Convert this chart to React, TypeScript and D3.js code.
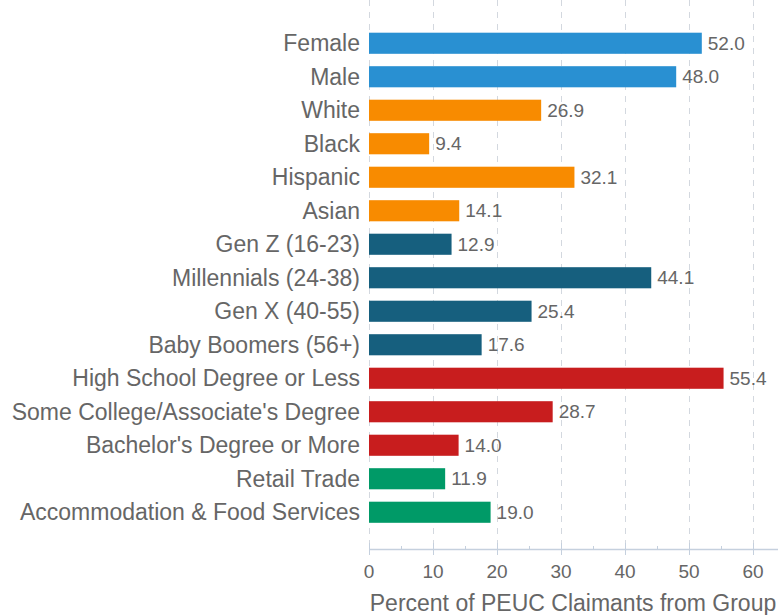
import { useEffect, useRef } from "react";
import * as d3 from "d3";

// categories, top to bottom
const categories = [
  "Female",
  "Male",
  "White",
  "Black",
  "Hispanic",
  "Asian",
  "Gen Z (16-23)",
  "Millennials (24-38)",
  "Gen X (40-55)",
  "Baby Boomers (56+)",
  "High School Degree or Less",
  "Some College/Associate's Degree",
  "Bachelor's Degree or More",
  "Retail Trade",
  "Accommodation & Food Services",
];
const values = [52.0, 48.0, 26.9, 9.4, 32.1, 14.1, 12.9, 44.1, 25.4, 17.6, 55.4, 28.7, 14.0, 11.9, 19.0];
const groups = ["sex", "sex", "race", "race", "race", "race", "age", "age", "age", "age", "edu", "edu", "edu", "ind", "ind"];
const groupColors: Record<string, string> = {
  sex: "#2990d2",
  race: "#f88b00",
  age: "#165f7e",
  edu: "#c81d1e",
  ind: "#009a67",
};
const xTicks = [0, 10, 20, 30, 40, 50, 60];
const xTitle = "Percent of PEUC Claimants from Group";

export default function App() {
  const svgRef = useRef<SVGSVGElement>(null);

  useEffect(() => {
    if (!svgRef.current) return;
    const svg = d3.select(svgRef.current);
    svg.selectAll("*").remove();

    const W = 778;
    const H = 615;
    const left = 369;
    const axisY = 549;

    const x = d3.scaleLinear().domain([0, 60]).range([left, 753]);
    const y = d3.scaleBand<string>()
      .domain(categories)
      .range([26.5, 529])
      .paddingInner(0.37)
      .paddingOuter(0.185);

    const font = "'Liberation Sans', Arial, sans-serif";

    // grid
    svg.append("g")
      .selectAll("line")
      .data(xTicks)
      .join("line")
      .attr("x1", d => x(d) + 0.5)
      .attr("x2", d => x(d) + 0.5)
      .attr("y1", 0)
      .attr("y2", 543)
      .attr("stroke", "#d3d8df")
      .attr("stroke-width", 1)
      .attr("stroke-dasharray", "6,6");

    // bars
    const data = categories.map((c, i) => ({ name: c, value: values[i], group: groups[i] }));
    svg.append("g")
      .selectAll("rect")
      .data(data)
      .join("rect")
      .attr("x", x(0))
      .attr("y", d => y(d.name)!)
      .attr("width", d => x(d.value) - x(0))
      .attr("height", y.bandwidth())
      .attr("fill", d => groupColors[d.group]);

    // value labels
    svg.append("g")
      .selectAll("text")
      .data(data)
      .join("text")
      .attr("x", d => x(d.value) + 6)
      .attr("y", d => y(d.name)! + y.bandwidth() / 2)
      .attr("dy", "0.35em")
      .style("font-family", font)
      .style("font-size", "19px")
      .style("fill", "#666")
      .text(d => d.value.toFixed(1));

    // category labels
    svg.append("g")
      .selectAll("text")
      .data(data)
      .join("text")
      .attr("x", left - 9)
      .attr("y", d => y(d.name)! + y.bandwidth() / 2)
      .attr("dy", "0.35em")
      .attr("text-anchor", "end")
      .style("font-family", font)
      .style("font-size", "23px")
      .style("fill", "#666")
      .text(d => d.name);

    // x axis
    const axis = svg.append("g");
    axis.append("line")
      .attr("x1", x(0))
      .attr("x2", x(64))
      .attr("y1", axisY + 0.5)
      .attr("y2", axisY + 0.5)
      .attr("stroke", "#c5d0de")
      .attr("stroke-width", 1.5);
    const minor = d3.range(0, 65, 5);
    axis.selectAll("line.tick")
      .data(minor)
      .join("line")
      .attr("class", "tick")
      .attr("x1", d => x(d) + 0.5)
      .attr("x2", d => x(d) + 0.5)
      .attr("y1", d => (d % 10 === 0 ? axisY - 6 : axisY - 3))
      .attr("y2", d => (d % 10 === 0 ? axisY + 6 : axisY))
      .attr("stroke", "#c5d0de")
      .attr("stroke-width", 1);
    axis.selectAll("text")
      .data(xTicks)
      .join("text")
      .attr("x", d => x(d))
      .attr("y", 578)
      .attr("text-anchor", "middle")
      .style("font-family", font)
      .style("font-size", "19px")
      .style("fill", "#666")
      .text(d => d);

    svg.append("text")
      .attr("x", 573)
      .attr("y", 611)
      .attr("text-anchor", "middle")
      .style("font-family", font)
      .style("font-size", "23px")
      .style("fill", "#666")
      .text(xTitle);

    svg.attr("width", W).attr("height", H);
  }, []);

  return (
    <svg
      ref={svgRef}
      width={778}
      height={615}
      style={{ position: "absolute", left: 0, top: 0, display: "block", background: "#fff" }}
    />
  );
}
